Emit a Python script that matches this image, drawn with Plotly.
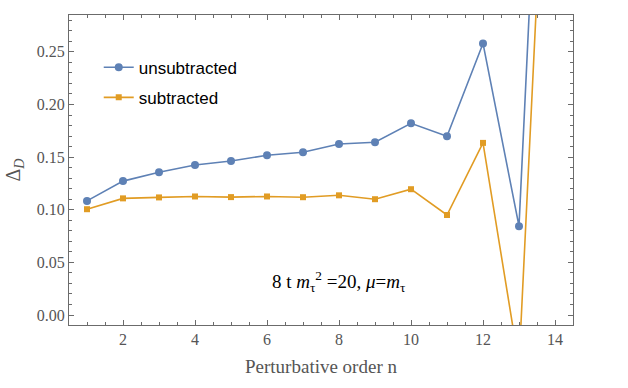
import plotly.graph_objects as go

# perturbative order n
orders = [1, 2, 3, 4, 5, 6, 7, 8, 9, 10, 11, 12, 13, 14]
# Delta_D (n=13/14 leave the plot range)
unsubtracted = [0.1084, 0.1272, 0.1357, 0.1425, 0.1463, 0.1517, 0.1546,
                0.1625, 0.1641, 0.1821, 0.1698, 0.2580, 0.0844, 0.80]
subtracted = [0.1005, 0.1108, 0.1117, 0.1126, 0.1120, 0.1126, 0.1119,
              0.1137, 0.1100, 0.1195, 0.0950, 0.1635, -0.047, 0.66]

blue = '#5E81B5'
orange = '#E19C24'
frame = '#6b6b6b'
serif = 'Liberation Serif, DejaVu Serif, serif'
label_font = dict(family=serif, size=16, color='#555555')

fig = go.Figure()
fig.add_trace(go.Scatter(x=orders, y=unsubtracted, mode='lines+markers', name='unsubtracted',
                         legendgroup='a',
                         line=dict(color=blue, width=1.6),
                         marker=dict(color=blue, size=8, symbol='circle')))
fig.add_trace(go.Scatter(x=orders, y=subtracted, mode='lines+markers', name='subtracted',
                         legendgroup='b',
                         line=dict(color=orange, width=1.6),
                         marker=dict(color=orange, size=6, symbol='square')))

fig.add_annotation(x=8, y=0.032, xref='x', yref='y', showarrow=False,
                   text='8 t <i>m</i><sub>τ</sub><sup>2</sup> =20, <i>μ</i>=<i>m</i><sub>τ</sub>',
                   font=dict(family=serif, size=19, color='black'))

axis_common = dict(showline=True, mirror='allticks', linecolor=frame, linewidth=1,
                   ticks='inside', ticklen=5, tickcolor=frame, showgrid=False, zeroline=False,
                   tickfont=label_font, automargin=False)

fig.update_xaxes(range=[0.5, 14.5], tickvals=[2, 4, 6, 8, 10, 12, 14],
                 minor=dict(dtick=0.5, tick0=0, ticks='inside', ticklen=3, tickcolor=frame, showgrid=False),
                 title=dict(text='Perturbative order n',
                            font=dict(family=serif, size=19, color='#555555'), standoff=12),
                 **axis_common)
fig.update_yaxes(range=[-0.0095, 0.285], tickvals=[0, 0.05, 0.1, 0.15, 0.2, 0.25], tickformat='.2f',
                 minor=dict(dtick=0.01, tick0=0, ticks='inside', ticklen=3, tickcolor=frame, showgrid=False),
                 title=dict(text='Δ<sub><i>D</i></sub>',
                            font=dict(family=serif, size=20, color='#555555'), standoff=10),
                 **axis_common)

fig.update_layout(
    width=628, height=388,
    margin=dict(l=69, r=55, t=15, b=63),
    plot_bgcolor='white', paper_bgcolor='white',
    legend=dict(x=0.059, y=0.888, xanchor='left', yanchor='top', bgcolor='rgba(0,0,0,0)',
                traceorder='grouped', tracegroupgap=5,
                font=dict(family='Liberation Sans, Arial, sans-serif', size=17, color='black')),
)

fig.write_html("out.html", config={'displayModeBar': False},
               post_script="document.body.style.margin='0';")
